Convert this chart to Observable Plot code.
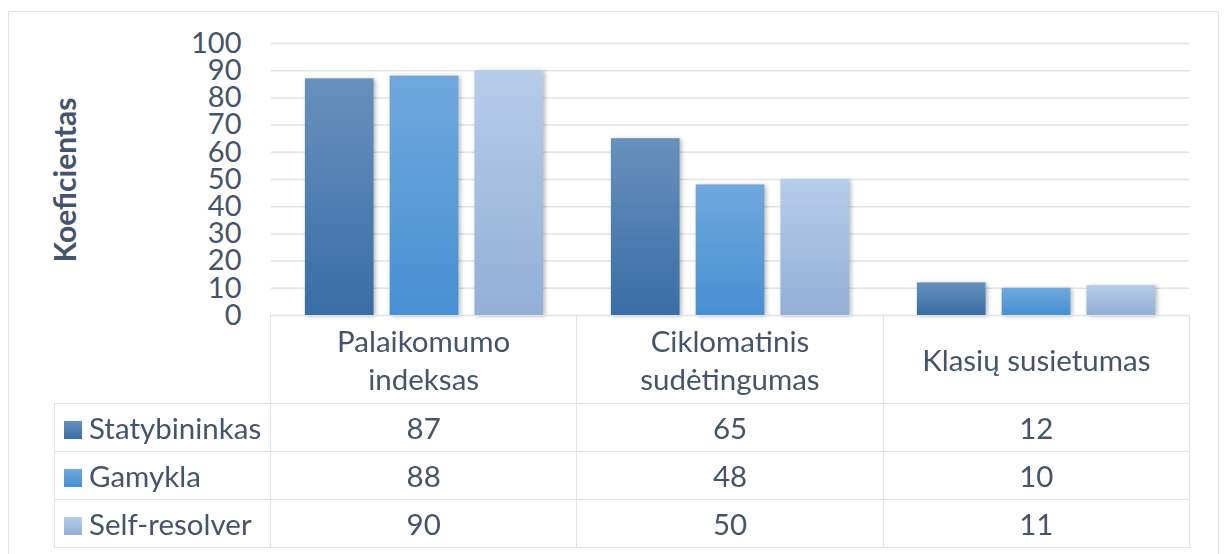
<!DOCTYPE html>
<html><head><meta charset="utf-8">
<script src="https://cdn.jsdelivr.net/npm/d3@7"></script>
<script src="https://cdn.jsdelivr.net/npm/@observablehq/plot@0.6"></script>
<style>
body{margin:0;background:#fff;font-family:Lato,"Open Sans",sans-serif;color:#44546a;}
#wrap{position:relative;width:1224px;height:554px;overflow:hidden;background:#fff;}
#frame{position:absolute;left:8px;top:11px;width:1211px;height:600px;border:1.5px solid #dfe3e8;box-sizing:border-box;}
#chart{position:absolute;left:0;top:0;}
#ylabel{position:absolute;left:64px;top:180px;transform:translate(-50%,-50%) rotate(-90deg);font-weight:bold;font-size:30px;white-space:nowrap;color:#44546a;}
#tbl{position:absolute;left:54px;top:315px;border-collapse:collapse;table-layout:fixed;font-size:29.5px;color:#44546a;}
#tbl td{border:1.5px solid #dfe3e8;padding:0;text-align:center;vertical-align:middle;}
#tbl td.corner{border-top:hidden;border-left:hidden;}
#tbl td.hdr{height:87px;line-height:38px;}
#tbl td.hdr div{max-width:250px;margin:0 auto;}
#tbl td.leg{text-align:left;white-space:nowrap;}
#tbl tr.row td{height:47px;}
.sw{display:inline-block;width:18px;height:18px;margin:0 7px 0 9px;vertical-align:0px;}
</style></head>
<body>
<div id="wrap">
  <div id="frame"></div>
  <div id="chart"></div>
  <div id="ylabel">Koeficientas</div>
  <table id="tbl"></table>
</div>
<script>
const categories = ["Palaikomumo indeksas", "Ciklomatinis sudėtingumas", "Klasių susietumas"];
const series = ["Statybininkas", "Gamykla", "Self-resolver"];
const statybininkas = [87, 65, 12];
const gamykla = [88, 48, 10];
const selfResolver = [90, 50, 11];
const yTicks = [0, 10, 20, 30, 40, 50, 60, 70, 80, 90, 100];
const seriesValues = [statybininkas, gamykla, selfResolver];
const gradients = [["#6791bd", "#386da5"], ["#70a8dd", "#4690d3"], ["#b6cde9", "#93afd6"]];

const data = [];
series.forEach((s, si) => categories.forEach((c, ci) => data.push({cat: c, series: s, si, value: seriesValues[si][ci]})));

const plot = Plot.plot({
  width: 1224,
  height: 330,
  marginTop: 43,
  marginBottom: 15,
  marginLeft: 270,
  marginRight: 35,
  style: {fontFamily: "Lato, 'Open Sans', sans-serif", fontSize: "29px", color: "#44546a", background: "transparent"},
  fx: {domain: categories, padding: 0, axis: null},
  x: {domain: series, paddingInner: 0.19, paddingOuter: 0.4, axis: null, round: false},
  y: {domain: [0, 100], axis: null},
  color: {type: "identity"},
  marks: [
    Plot.gridY(yTicks, {stroke: "#dfe3e8", strokeOpacity: 1, strokeWidth: 1.5}),
    Plot.axisY(yTicks, {tickSize: 0, tickPadding: 30, label: null, fontSize: 29, fill: "#44546a"}),
    Plot.barY(data, {fx: "cat", x: "series", y: "value", fill: d => `url(#grad${d.si})`})
  ]
});

const defs = d3.select(plot).insert("defs", ":first-child");
gradients.forEach((g, i) => {
  const lg = defs.append("linearGradient").attr("id", "grad" + i).attr("x1", 0).attr("y1", 0).attr("x2", 0).attr("y2", 1);
  lg.append("stop").attr("offset", "0%").attr("stop-color", g[0]);
  lg.append("stop").attr("offset", "100%").attr("stop-color", g[1]);
});
d3.select(plot).selectAll("g[aria-label='bar']").style("filter", "drop-shadow(2px 1px 2px rgba(0,0,0,0.28))");
document.getElementById("chart").appendChild(plot);

// data table below the chart
const tbl = d3.select("#tbl");
const cg = tbl.append("colgroup");
cg.append("col").style("width", "216px");
categories.forEach(() => cg.append("col").style("width", "306.33px"));
const hr = tbl.append("tr");
hr.append("td").attr("class", "corner hdr");
categories.forEach(c => hr.append("td").attr("class", "hdr").append("div").text(c));
series.forEach((s, si) => {
  const tr = tbl.append("tr").attr("class", "row");
  const td = tr.append("td").attr("class", "leg");
  td.append("span").attr("class", "sw").style("background", `linear-gradient(${gradients[si][0]}, ${gradients[si][1]})`);
  td.append("span").text(s);
  seriesValues[si].forEach(v => tr.append("td").text(v));
});
</script>
</body></html>
